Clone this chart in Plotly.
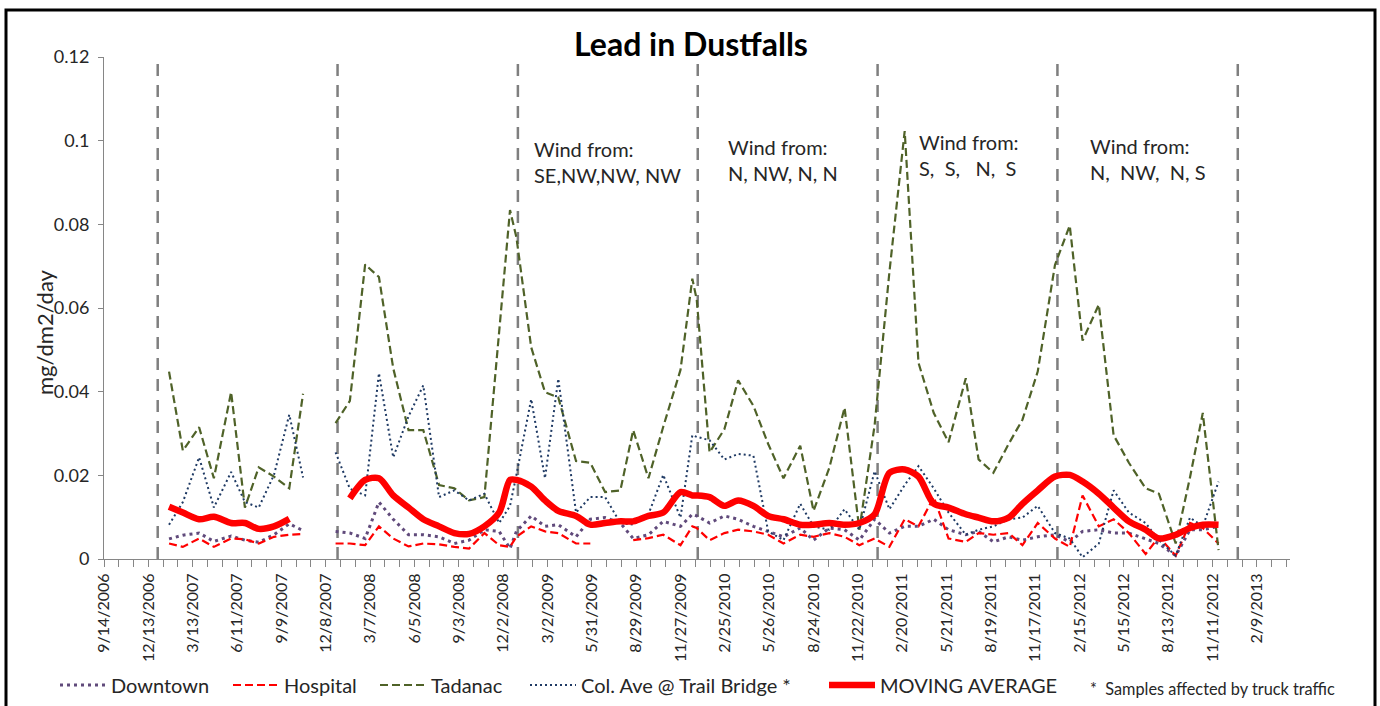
import plotly.graph_objects as go

# ---------------- data ----------------
DATES = [
    "2007-01-24", "2007-02-21", "2007-03-26", "2007-04-25", "2007-05-30", "2007-06-27",
    "2007-07-25", "2007-08-25", "2007-09-25", "2007-10-23",
    "2007-11-25",
    "2007-12-28", "2008-01-26", "2008-02-26", "2008-03-25", "2008-04-23", "2008-05-24",
    "2008-06-23", "2008-07-25", "2008-08-25", "2008-09-24", "2008-10-25", "2008-11-24",
    "2008-12-16", "2008-12-29", "2009-01-28", "2009-02-25", "2009-03-24", "2009-04-29",
    "2009-05-28", "2009-06-27", "2009-07-28", "2009-08-23", "2009-09-23", "2009-10-23",
    "2009-11-27", "2009-12-21", "2009-12-30", "2010-01-25", "2010-02-24", "2010-03-24",
    "2010-04-24", "2010-05-24", "2010-06-24", "2010-07-28", "2010-08-24", "2010-09-25",
    "2010-10-26", "2010-11-25", "2010-12-26", "2011-01-25", "2011-02-25", "2011-03-25",
    "2011-04-25", "2011-05-25", "2011-06-29", "2011-07-25", "2011-08-24", "2011-09-24",
    "2011-10-22", "2011-11-22", "2011-12-27", "2012-01-26", "2012-02-21", "2012-03-25",
    "2012-04-24", "2012-05-25", "2012-06-28", "2012-07-25", "2012-08-28", "2012-09-26",
    "2012-10-22", "2012-11-23",
]

DOWNTOWN = [
    .0048, .0057, .0062, .0042, .0055, .0045, .0040, .0058, .0084, .0068,
    None,
    .0066, .0062, .0049, .0136, .0095, .0058, .0058, .0053, .0037, .0045, .0070, .0066,
    .0025, .0066, .0103, .0078, .0082, .0053, .0095, .0099, .0086, .0049, .0058, .0090,
    .0078, .0107, .0103, .0086, .0103, .0095, .0078, .0066, .0053, .0074, .0045, .0074,
    .0070, .0045, .0095, .0062, .0078, .0078, .0095, .0070, .0058, .0066, .0041, .0053,
    .0045, .0053, .0058, .0041, .0066, .0070, .0062, .0062, .0049, .0037, .0008, .0070,
    .0070, .0078,
]

HOSPITAL = [
    .0037, .0029, .0049, .0029, .0049, .0047, .0037, .0053, .0058, .0060,
    None,
    .0037, .0037, .0033, .0078, .0049, .0030, .0037, .0035, .0029, .0025, .0062, .0033,
    .0029, .0053, .0078, .0066, .0062, .0037, .0037, None, None, .0045, .0050, .0058,
    .0033, .0078, .0074, .0045, .0062, .0070, .0066, .0058, .0037, .0058, .0053, .0062,
    .0053, .0033, .0049, .0029, .0095, .0078, .0148, .0049, .0041, .0062, .0058, .0062,
    .0033, .0086, .0049, .0029, .0152, .0078, .0095, .0062, .0012, .0053, .0008, .0086,
    .0074, .0037,
]

TADANAC = [
    .0448, .0259, .0315, .0193, .0399, .0123, .0219, .0197, .0169, .0395,
    None,
    .0325, .0378, .0704, .0674, .0456, .0308, .0308, .0177, .0169, .0140, .0148, .0540,
    .0834, .0769, .0506, .0399, .0386, .0234, .0230, .0160, .0164, .0308, .0193, .0316,
    .0452, .0670, .0620, .0255, .0310, .0427, .0366, .0275, .0193, .0271, .0115, .0218,
    .0362, .0070, .0320, .0686, .1023, .0469, .0349, .0279, .0432, .0238, .0206, .0275,
    .0333, .0448, .0703, .0797, .0522, .0608, .0296, .0230, .0169, .0156, .0037, .0195,
    .0349, .0021,
]

COL_AVE = [
    .0082, .0136, .0243, .0123, .0208, .0136, .0123, .0201, .0345, .0195,
    None,
    .0255, .0168, .0152, .0444, .0243, .0341, .0415, .0148, .0164, .0140, .0156, .0086,
    .0127, .0201, .0382, .0193, .0431, .0111, .0148, .0148, .0086, .0082, .0107, .0201,
    .0099, .0296, .0292, .0284, .0238, .0251, .0247, .0066, .0045, .0132, .0078, .0070,
    .0119, .0070, .0210, .0119, .0177, .0222, .0169, .0111, .0058, .0070, .0078, .0095,
    .0099, .0127, .0062, .0049, .0004, .0037, .0164, .0111, .0086, .0045, .0008, .0099,
    .0078, .0185,
]

MOVING_AVERAGE = [
    .0125, .0111, .0095, .0101, .0086, .0086, .0072, .0078, .0096, None,
    None,
    None, .0145, .0189, .0193, .0152, .0123, .0095, .0078, .0062, .0060, .0078, .0111,
    .0189, .0189, .0173, .0140, .0115, .0103, .0082, .0086, .0090, .0090, .0103, .0111,
    .0160, .0152, .0152, .0148, .0127, .0140, .0127, .0103, .0095, .0082, .0082, .0086,
    .0082, .0086, .0107, .0206, .0214, .0197, .0132, .0123, .0107, .0099, .0090, .0099,
    .0132, .0164, .0197, .0201, .0185, .0156, .0123, .0090, .0070, .0049, .0058, .0074,
    .0082, .0082,
]

TICK_LABELS = [
    "9/14/2006", "12/13/2006", "3/13/2007", "6/11/2007", "9/9/2007", "12/8/2007",
    "3/7/2008", "6/5/2008", "9/3/2008", "12/2/2008", "3/2/2009", "5/31/2009",
    "8/29/2009", "11/27/2009", "2/25/2010", "5/26/2010", "8/24/2010", "11/22/2010",
    "2/20/2011", "5/21/2011", "8/19/2011", "11/17/2011", "2/15/2012", "5/15/2012",
    "8/13/2012", "11/11/2012", "2/9/2013",
]

YEAR_LINES = ["2007-01-01", "2008-01-01", "2009-01-01", "2010-01-01",
              "2011-01-01", "2012-01-01", "2013-01-01"]

WIND_X = ["2009-01-29", "2010-02-28", "2011-03-21", "2012-03-04"]
WIND_Y = [0.0950, 0.0953, 0.0965, 0.0955]
WIND_TEXT = [
    "Wind from:<br>SE,NW,NW, NW",
    "Wind from:<br>N, NW, N, N",
    "Wind from:<br>S,\u00a0 S,\u00a0\u00a0 N,\u00a0 S",
    "Wind from:<br>N,\u00a0 NW,\u00a0 N, S",
]

# ---------------- styling ----------------
FONT = "Lato, 'Open Sans', sans-serif"
TXT = "#262626"
AX = "#868686"


def mdy_to_iso(s):
    m, d, y = s.split("/")
    return f"{int(y):04d}-{int(m):02d}-{int(d):02d}"


TICK_VALS = [mdy_to_iso(s) for s in TICK_LABELS]

fig = go.Figure()

series = [
    ("Downtown", DOWNTOWN, dict(color="#604A7B", width=3, dash="3px,4px"), "linear", "legend"),
    ("Hospital", HOSPITAL, dict(color="#FF0000", width=2.2, dash="8px,4px"), "linear", "legend2"),
    ("Tadanac", TADANAC, dict(color="#4F6228", width=2.2, dash="8px,4px"), "linear", "legend3"),
    ("Col. Ave @ Trail Bridge *", COL_AVE, dict(color="#1F3A64", width=2, dash="2px,3px"), "linear", "legend4"),
    ("MOVING AVERAGE", MOVING_AVERAGE, dict(color="#FF0000", width=6.5), "spline", "legend5"),
]

for name, vals, line, shape, leg in series:
    ln = dict(line)
    ln["shape"] = shape
    if shape == "spline":
        ln["smoothing"] = 0.8
    fig.add_trace(go.Scatter(
        x=DATES, y=vals, name=name, mode="lines", line=ln,
        connectgaps=False, legend=leg, hoverinfo="skip",
    ))

for d in YEAR_LINES:
    fig.add_shape(type="line", xref="x", yref="y", x0=d, x1=d, y0=0, y1=0.12,
                  line=dict(color="#7F7F7F", width=2.5, dash="12px,9px"), layer="below")

for x, y, t in zip(WIND_X, WIND_Y, WIND_TEXT):
    fig.add_annotation(x=x, y=y, xref="x", yref="y", text=t, showarrow=False,
                       xanchor="left", yanchor="middle", align="left",
                       font=dict(family=FONT, size=20, color=TXT))

# plot-area geometry (px)
L, R, T, B = 104, 1290, 57, 559
PW, PH = R - L, B - T


def px(xpix):
    return (xpix - L) / PW


def py(ypix):
    return (B - ypix) / PH


# y axis title
fig.add_annotation(x=px(44), y=py(332), xref="paper", yref="paper", text="mg/dm2/day",
                   textangle=-90, showarrow=False, xanchor="center", yanchor="middle",
                   font=dict(family=FONT, size=22, color=TXT))

# footnote
fig.add_annotation(x=px(1088), y=py(688), xref="paper", yref="paper",
                   text="*\u00a0 Samples affected by truck traffic", showarrow=False,
                   xanchor="left", yanchor="middle",
                   font=dict(family=FONT, size=16.3, color=TXT))

# outer frame
fig.add_shape(type="rect", xref="paper", yref="paper",
              x0=px(6), x1=px(1375), y0=py(740), y1=py(10),
              line=dict(color="black", width=3), fillcolor="rgba(0,0,0,0)")

leg_common = dict(orientation="h", yanchor="middle", xanchor="left",
                  font=dict(family=FONT, size=20, color=TXT), bgcolor="rgba(0,0,0,0)",
                  itemwidth=46, y=py(685))
legend_x = {"legend": 55, "legend2": 228, "legend3": 375, "legend4": 525, "legend5": 824}

layout_legends = {k: dict(leg_common, x=px(v)) for k, v in legend_x.items()}

fig.update_layout(
    width=1380, height=706,
    template="none",
    paper_bgcolor="white", plot_bgcolor="white",
    margin=dict(l=L, r=1380 - R, t=T, b=706 - B, pad=0, autoexpand=False),
    showlegend=True,
    hovermode=False,
    title=dict(text="<b>Lead in Dustfalls</b>", x=691 / 1380, xref="container", xanchor="center",
               y=1 - 45 / 706, yref="container", yanchor="middle",
               font=dict(family=FONT, size=32, color="black")),
    xaxis=dict(
        type="date", range=["2006-09-14", "2013-04-17"],
        tickmode="array", tickvals=TICK_VALS, ticktext=TICK_LABELS, tickangle=-90,
        ticks="outside", ticklen=7, tickcolor=AX, tickwidth=1,
        showline=True, linecolor=AX, linewidth=1, showgrid=False, zeroline=False,
        tickfont=dict(family=FONT, size=16, color=TXT),
        minor=dict(tickmode="linear", tick0="2006-09-14", dtick=30 * 86400000,
                   ticks="outside", ticklen=7, tickcolor=AX, tickwidth=1, showgrid=False),
        automargin=False,
    ),
    yaxis=dict(
        range=[0, 0.12], tickmode="linear", tick0=0, dtick=0.02,
        ticks="outside", ticklen=5, tickcolor=AX, tickwidth=1,
        showline=True, linecolor=AX, linewidth=1, showgrid=False, zeroline=False,
        tickfont=dict(family=FONT, size=18, color=TXT), ticklabelstandoff=5,
        automargin=False,
    ),
    **layout_legends,
)

PAGE_FIX = (
    "var h=document.documentElement, b=document.body;"
    "h.style.margin='0'; h.style.padding='0'; h.style.overflow='hidden'; h.style.height='706px';"
    "b.style.margin='0'; b.style.padding='0'; b.style.overflow='hidden'; b.style.height='706px';"
)

fig.write_html(
    "out.html",
    config={"displayModeBar": False},
    post_script=PAGE_FIX,
)
